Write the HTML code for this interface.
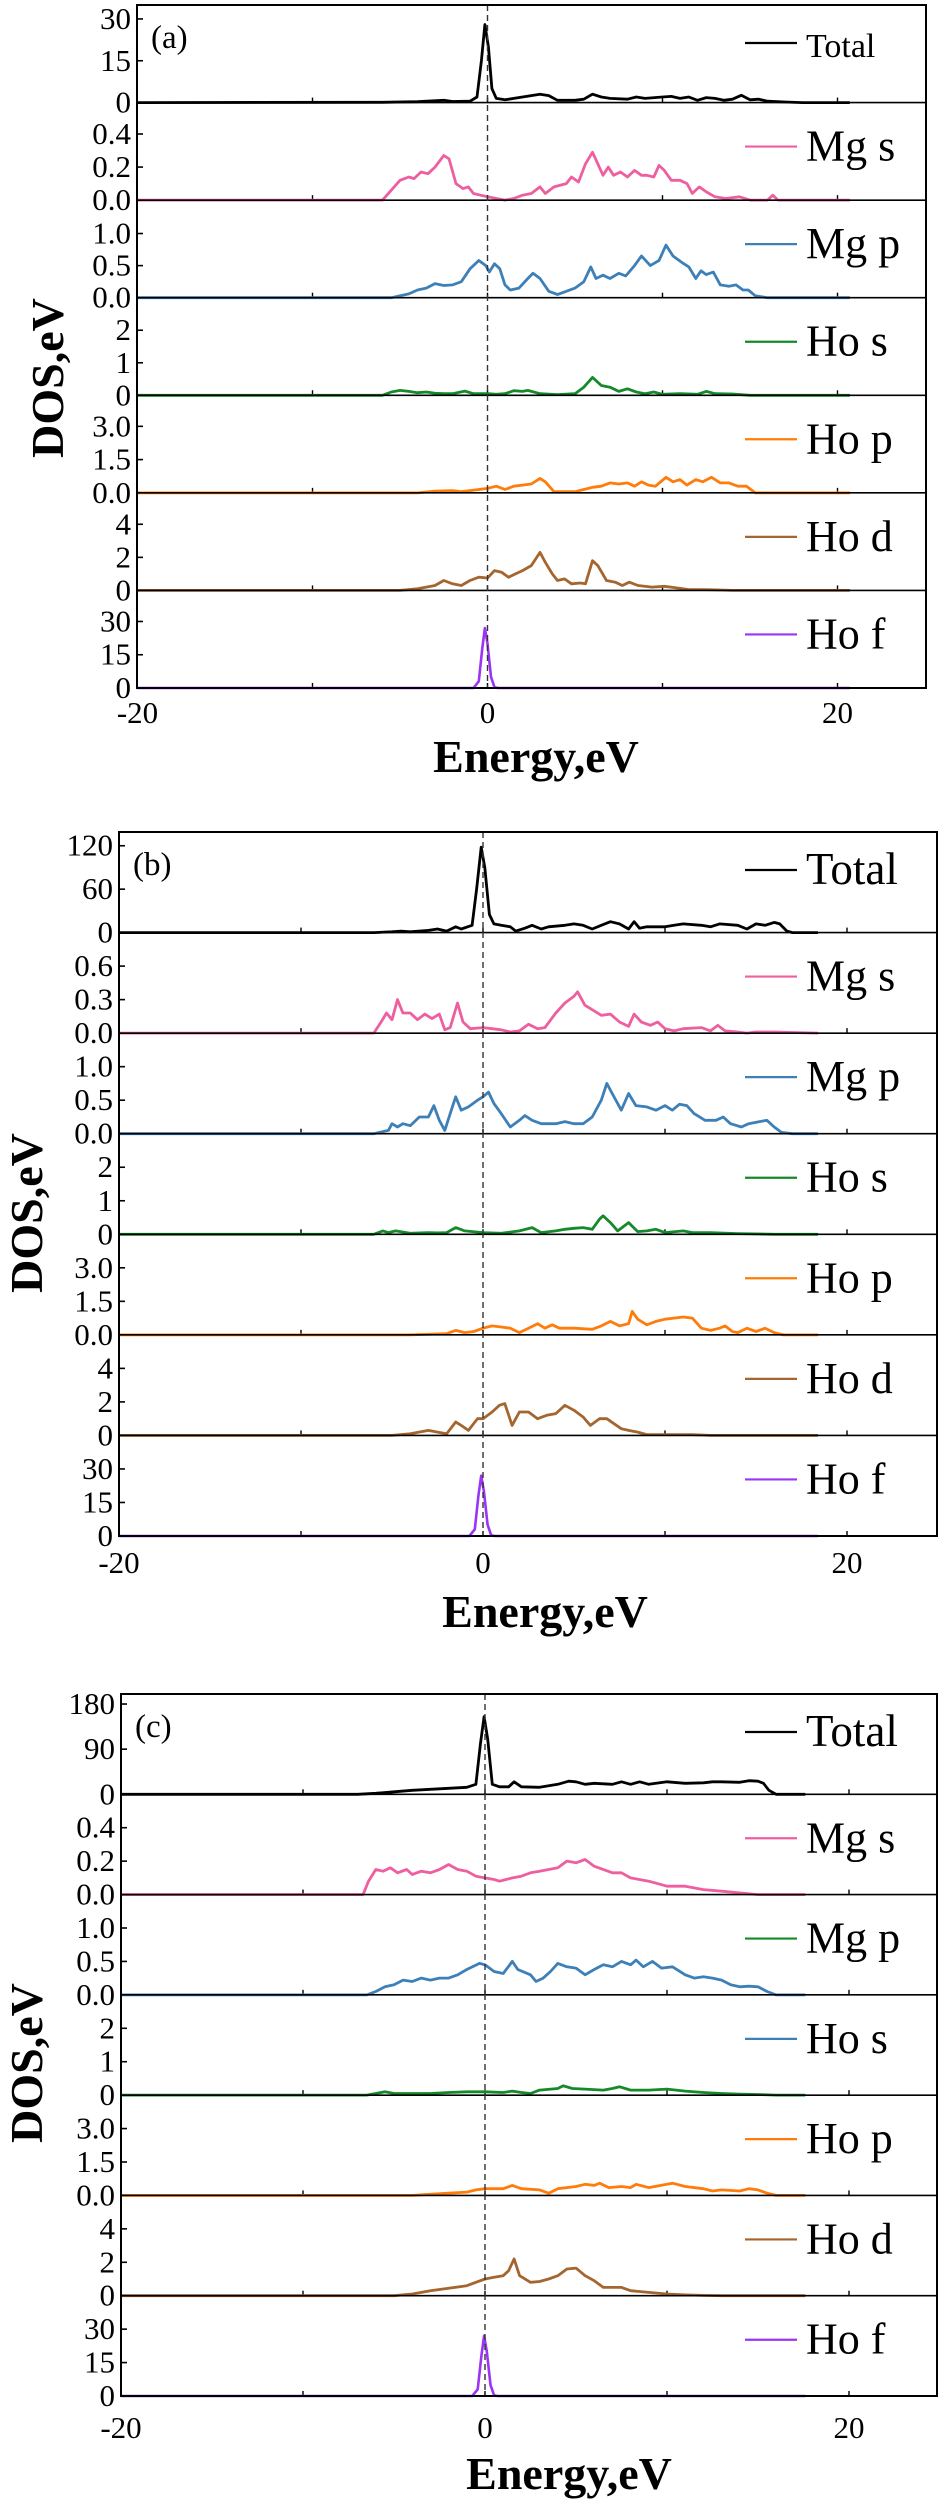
<!DOCTYPE html>
<html><head><meta charset="utf-8">
<style>
html,body{margin:0;padding:0;background:#fff;}
svg{display:block;}
text{font-family:"Liberation Serif",serif;fill:#000;}
</style></head>
<body>
<svg id="fig" width="939" height="2500" viewBox="0 0 939 2500" xmlns="http://www.w3.org/2000/svg"></svg>
<script>
// ---- Data: [energy eV, DOS] pairs ----
const aTotal=[[-20,0],[-6,0.1],[-4,0.3],[-2.5,0.8],[-2,0.4],[-1,0.5],[-0.6,2],[-0.35,15],[-0.15,28],[0.05,20],[0.25,5],[0.5,1.5],[1,1],[2,2],[3,3],[3.5,2.5],[4,0.8],[5,0.8],[5.5,1.2],[6,3],[6.5,2],[7,1.5],[8,1.2],[8.5,2],[9,1.5],[10,2],[10.5,2.2],[11,1.5],[11.5,2],[12,0.8],[12.5,1.8],[13,1.5],[13.5,0.8],[14,1.2],[14.5,2.6],[15,1],[15.5,1.2],[16,0.5],[17,0.2],[18,0],[20.7,0]];
const aMgs=[[-20,0],[-6,0],[-5.5,0.06],[-5,0.12],[-4.5,0.14],[-4.2,0.13],[-3.8,0.17],[-3.4,0.16],[-3,0.2],[-2.5,0.27],[-2.2,0.25],[-1.8,0.1],[-1.4,0.07],[-1.1,0.08],[-0.8,0.04],[-0.4,0.03],[0,0.02],[0.5,0.01],[1,0],[1.5,0.01],[2,0.03],[2.5,0.04],[3,0.08],[3.3,0.04],[3.8,0.08],[4.5,0.1],[4.8,0.14],[5.2,0.11],[5.6,0.22],[6,0.29],[6.3,0.22],[6.6,0.15],[6.9,0.2],[7.2,0.15],[7.6,0.17],[8,0.14],[8.4,0.18],[8.8,0.15],[9.1,0.15],[9.5,0.14],[9.8,0.21],[10.1,0.18],[10.5,0.12],[11,0.12],[11.4,0.1],[11.7,0.04],[12.1,0.08],[12.5,0.05],[13,0.02],[13.6,0.01],[14.4,0.02],[15,0],[16,0],[16.3,0.03],[16.6,0],[20.7,0]];
const aMgp=[[-20,0],[-5.5,0],[-4.5,0.06],[-4,0.12],[-3.5,0.15],[-3,0.22],[-2.5,0.19],[-2,0.2],[-1.5,0.25],[-1,0.45],[-0.5,0.58],[-0.1,0.5],[0.1,0.4],[0.4,0.53],[0.7,0.45],[1,0.2],[1.3,0.12],[1.8,0.15],[2.3,0.3],[2.6,0.38],[3,0.3],[3.5,0.1],[4,0.05],[4.5,0.1],[5,0.15],[5.5,0.25],[5.9,0.48],[6.2,0.3],[6.6,0.35],[7,0.3],[7.5,0.38],[7.9,0.34],[8.4,0.5],[8.8,0.65],[9.3,0.5],[9.8,0.58],[10.2,0.82],[10.6,0.65],[11.1,0.55],[11.5,0.48],[11.9,0.3],[12.2,0.42],[12.5,0.36],[12.9,0.4],[13.3,0.2],[13.8,0.18],[14.2,0.2],[14.6,0.12],[14.9,0.12],[15.3,0.03],[16,0],[20.7,0]];
const aHos=[[-20,0],[-6,0],[-5.5,0.1],[-5,0.15],[-4.5,0.12],[-4,0.08],[-3.5,0.1],[-3,0.06],[-2.5,0.05],[-2,0.05],[-1.3,0.13],[-0.8,0.05],[0,0.05],[0.5,0.03],[1,0.05],[1.5,0.14],[2,0.12],[2.3,0.15],[3,0.05],[4,0.02],[5,0.05],[5.5,0.25],[6,0.55],[6.5,0.3],[7,0.25],[7.5,0.12],[8,0.2],[8.5,0.1],[9,0.05],[9.5,0.1],[10,0.03],[11,0.05],[12,0.03],[12.5,0.12],[13,0.05],[14,0.04],[15,0],[20.7,0]];
const aHop=[[-20,0],[-4,0],[-3,0.08],[-2,0.1],[-1.5,0.05],[-1,0.1],[-0.5,0.15],[0,0.2],[0.5,0.3],[1,0.15],[1.5,0.3],[2,0.35],[2.5,0.4],[3,0.65],[3.3,0.5],[3.8,0.05],[5,0.05],[5.5,0.15],[6,0.25],[6.5,0.3],[7,0.45],[7.5,0.4],[8,0.45],[8.4,0.3],[8.8,0.5],[9.2,0.35],[9.6,0.3],[10.2,0.7],[10.6,0.5],[11,0.6],[11.4,0.35],[11.9,0.6],[12.3,0.5],[12.8,0.7],[13.3,0.45],[13.8,0.45],[14.3,0.3],[14.8,0.3],[15.3,0],[20.7,0]];
const aHod=[[-20,0],[-5,0],[-4,0.1],[-3,0.3],[-2.5,0.6],[-2,0.4],[-1.5,0.3],[-1,0.6],[-0.5,0.8],[0,0.75],[0.4,1.2],[0.8,1.1],[1.2,0.8],[1.6,1.0],[2,1.2],[2.5,1.5],[3,2.3],[3.3,1.7],[3.7,1.0],[4,0.6],[4.4,0.7],[4.8,0.4],[5.3,0.45],[5.6,0.4],[6,1.8],[6.3,1.5],[6.8,0.6],[7.3,0.5],[7.7,0.3],[8.1,0.5],[8.6,0.3],[9.4,0.2],[10.1,0.25],[10.8,0.15],[11.5,0.05],[12.5,0.05],[14,0],[20.7,0]];
const aHof=[[-20,0],[-0.8,0],[-0.5,3],[-0.3,18],[-0.15,27],[0,20],[0.2,5],[0.4,0.3],[0.6,0],[20.7,0]];

const bTotal=[[-20,0],[-6,0],[-5,1],[-4.5,2],[-4,1],[-3,3],[-2.5,5],[-2,2],[-1.5,8],[-1.2,5],[-0.6,10],[-0.35,60],[-0.1,118],[0.1,90],[0.35,25],[0.6,12],[1,10],[1.5,8],[1.8,2],[2.3,6],[2.7,10],[3.2,5],[3.6,8],[4.5,10],[5,12],[5.5,10],[6,5],[6.5,10],[7,15],[7.5,12],[8,5],[8.3,15],[8.6,6],[9,8],[10,8],[10.5,10],[11,12],[12,10],[12.5,8],[13,12],[14,10],[14.5,5],[15,12],[15.5,10],[16,14],[16.3,12],[16.7,2],[17,0],[18.4,0]];
const bMgs=[[-20,0],[-6,0],[-5.6,0.1],[-5.3,0.18],[-5,0.12],[-4.7,0.3],[-4.4,0.18],[-4,0.18],[-3.6,0.12],[-3.2,0.17],[-2.8,0.13],[-2.4,0.17],[-2.1,0.03],[-1.8,0.05],[-1.4,0.27],[-1.1,0.1],[-0.7,0.04],[0,0.05],[0.5,0.04],[1,0.03],[1.5,0.01],[2,0.02],[2.5,0.08],[3,0.04],[3.4,0.05],[4,0.18],[4.5,0.27],[5,0.33],[5.2,0.37],[5.6,0.25],[6.1,0.2],[6.5,0.16],[7,0.17],[7.5,0.1],[8,0.06],[8.3,0.17],[8.7,0.1],[9.2,0.07],[9.6,0.1],[10,0.04],[10.5,0.02],[11,0.04],[12,0.05],[12.5,0.02],[12.9,0.07],[13.3,0.02],[14,0.01],[14.5,0],[15,0.01],[16,0.01],[18.4,0]];
const bMgp=[[-20,0],[-6,0],[-5.2,0.05],[-5,0.15],[-4.7,0.1],[-4.4,0.15],[-4,0.12],[-3.5,0.25],[-3,0.25],[-2.7,0.42],[-2.4,0.2],[-2.1,0.05],[-1.8,0.3],[-1.5,0.55],[-1.2,0.35],[-0.8,0.4],[-0.3,0.5],[0,0.55],[0.3,0.62],[0.6,0.45],[1,0.3],[1.5,0.1],[2,0.2],[2.3,0.27],[2.7,0.2],[3.2,0.15],[4,0.15],[4.5,0.18],[5,0.15],[5.5,0.15],[6,0.25],[6.5,0.5],[6.8,0.75],[7.1,0.6],[7.6,0.35],[8,0.6],[8.4,0.42],[9,0.4],[9.5,0.35],[10,0.42],[10.4,0.35],[10.8,0.44],[11.2,0.42],[11.6,0.3],[12.2,0.2],[12.8,0.2],[13.2,0.25],[13.6,0.15],[14.2,0.1],[14.6,0.15],[15.2,0.18],[15.6,0.2],[16,0.1],[16.4,0.02],[17,0],[18.4,0]];
const bHos=[[-20,0],[-6,0],[-5.5,0.1],[-5.2,0.05],[-4.8,0.1],[-4,0.03],[-3,0.05],[-2.5,0.04],[-2,0.05],[-1.5,0.2],[-1,0.1],[0,0.05],[1,0.03],[2,0.1],[2.7,0.2],[3.2,0.05],[4,0.1],[4.5,0.15],[5,0.18],[5.5,0.2],[6,0.15],[6.4,0.45],[6.6,0.55],[7,0.35],[7.4,0.1],[8,0.35],[8.5,0.08],[9,0.1],[9.5,0.15],[10,0.05],[11,0.1],[11.5,0.05],[12.5,0.05],[14,0.02],[16,0],[18.4,0]];
const bHop=[[-20,0],[-4,0],[-2,0.05],[-1.5,0.2],[-1,0.1],[-0.5,0.15],[0,0.3],[0.5,0.4],[1,0.35],[1.5,0.3],[2,0.1],[2.5,0.3],[3,0.5],[3.4,0.3],[3.8,0.45],[4.2,0.3],[5,0.3],[6,0.25],[6.5,0.4],[7,0.6],[7.5,0.4],[8,0.5],[8.2,1.05],[8.5,0.7],[9,0.45],[9.5,0.6],[10,0.7],[10.5,0.75],[11,0.8],[11.5,0.75],[12,0.3],[12.5,0.2],[13,0.3],[13.3,0.4],[13.7,0.15],[14,0.1],[14.5,0.3],[15,0.15],[15.5,0.3],[16,0.1],[16.5,0],[18.4,0]];
const bHod=[[-20,0],[-5,0],[-4,0.1],[-3,0.3],[-2.5,0.2],[-2,0.1],[-1.5,0.8],[-1.2,0.6],[-0.8,0.3],[-0.3,1.0],[0,1.0],[0.5,1.4],[0.9,1.8],[1.2,1.9],[1.6,0.6],[2,1.4],[2.5,1.4],[3,1.0],[3.5,1.2],[4,1.3],[4.5,1.8],[5,1.5],[5.5,1.1],[5.9,0.6],[6.4,1.0],[6.8,1.0],[7.2,0.7],[7.6,0.4],[8,0.3],[8.5,0.2],[9,0.05],[10,0.05],[11.5,0.05],[12.5,0],[18.4,0]];
const bHof=[[-20,0],[-0.75,0],[-0.45,3],[-0.25,18],[-0.1,27],[0.05,20],[0.25,5],[0.45,0.3],[0.65,0],[18.4,0]];

const cTotal=[[-20,0],[-7,0],[-6,2],[-5,5],[-4,8],[-3,10],[-2,12],[-1,14],[-0.5,20],[-0.25,100],[-0.05,155],[0.15,110],[0.4,20],[0.8,15],[1.3,15],[1.6,25],[2,15],[3,14],[4,20],[4.6,26],[5,25],[5.5,20],[6,22],[7,20],[7.5,25],[8,20],[8.5,25],[9,20],[10,25],[11,22],[12,23],[12.5,25],[13,25],[14,24],[14.5,27],[15,26],[15.3,22],[15.6,8],[16,0],[17.6,0]];
const cMgs=[[-20,0],[-6.7,0],[-6.4,0.08],[-6,0.15],[-5.6,0.14],[-5.2,0.16],[-4.8,0.13],[-4.3,0.15],[-4,0.12],[-3.5,0.14],[-3,0.13],[-2.5,0.15],[-2,0.18],[-1.5,0.15],[-1,0.14],[-0.5,0.11],[0,0.1],[0.5,0.09],[0.8,0.08],[1.5,0.1],[2,0.11],[2.5,0.13],[3,0.14],[3.5,0.15],[4,0.16],[4.5,0.2],[5,0.19],[5.5,0.21],[6,0.17],[7,0.13],[7.5,0.13],[8,0.1],[9,0.08],[10,0.05],[11,0.05],[12,0.03],[13,0.02],[14,0.01],[15,0],[17.6,0]];
const cMgp=[[-20,0],[-6.5,0],[-6,0.05],[-5.5,0.12],[-5,0.15],[-4.5,0.22],[-4,0.2],[-3.5,0.25],[-3,0.22],[-2.5,0.25],[-2,0.25],[-1.5,0.3],[-1,0.38],[-0.3,0.47],[0,0.45],[0.5,0.35],[1,0.32],[1.5,0.5],[1.8,0.38],[2.5,0.3],[2.8,0.2],[3.2,0.25],[3.6,0.35],[4,0.47],[4.5,0.42],[5,0.4],[5.5,0.3],[6,0.38],[6.5,0.45],[7,0.42],[7.5,0.5],[8,0.45],[8.3,0.52],[8.7,0.42],[9.2,0.5],[9.7,0.4],[10.3,0.42],[11,0.3],[11.5,0.25],[12,0.27],[12.5,0.25],[13,0.22],[13.5,0.15],[14,0.12],[14.5,0.13],[15,0.12],[15.5,0.05],[16,0],[17.6,0]];
const cHos=[[-20,0],[-6.5,0],[-6,0.05],[-5.5,0.1],[-5,0.05],[-4,0.05],[-3,0.05],[-2,0.08],[-1,0.1],[0,0.1],[1,0.08],[1.5,0.12],[2,0.08],[2.5,0.05],[3,0.15],[4,0.2],[4.3,0.28],[4.8,0.2],[5.5,0.18],[6.5,0.15],[7,0.2],[7.4,0.25],[8,0.15],[9,0.15],[10,0.18],[11,0.12],[12,0.08],[13,0.05],[14,0.03],[15,0.02],[16,0],[17.6,0]];
const cHop=[[-20,0],[-4,0],[-3,0.05],[-2,0.1],[-1,0.15],[-0.5,0.25],[0,0.3],[1,0.3],[1.5,0.45],[2,0.3],[3,0.25],[3.5,0.1],[4,0.3],[5,0.4],[5.5,0.5],[6,0.45],[6.3,0.55],[6.8,0.35],[7.5,0.4],[8,0.35],[8.3,0.5],[9,0.35],[10,0.5],[10.3,0.55],[11,0.4],[12,0.3],[12.5,0.2],[13,0.25],[14,0.2],[14.5,0.3],[15,0.25],[15.5,0.1],[16,0],[17.6,0]];
const cHod=[[-20,0],[-5,0],[-4,0.1],[-3,0.3],[-2,0.45],[-1,0.6],[-0.5,0.8],[0,1.0],[0.5,1.1],[1,1.2],[1.3,1.5],[1.6,2.2],[1.9,1.2],[2.5,0.8],[3,0.85],[3.5,1.0],[4,1.2],[4.5,1.6],[5,1.65],[5.5,1.2],[6,0.9],[6.5,0.5],[7,0.5],[7.5,0.5],[8,0.3],[9,0.2],[10,0.1],[11,0.05],[12,0.02],[13,0],[17.6,0]];
const cHof=[[-20,0],[-0.7,0],[-0.4,3],[-0.2,18],[-0.05,27],[0.1,20],[0.3,5],[0.5,0.3],[0.7,0],[17.6,0]];

// tick labels per sub-panel
const aTicks=[["0","15","30"],["0.0","0.2","0.4"],["0.0","0.5","1.0"],["0","1","2"],["0.0","1.5","3.0"],["0","2","4"],["0","15","30"]];
const bTicks=[["0","60","120"],["0.0","0.3","0.6"],["0.0","0.5","1.0"],["0","1","2"],["0.0","1.5","3.0"],["0","2","4"],["0","15","30"]];
const cTicks=[["0","90","180"],["0.0","0.2","0.4"],["0.0","0.5","1.0"],["0","1","2"],["0.0","1.5","3.0"],["0","2","4"],["0","15","30"]];
const aYmax=[35,0.59,1.52,3,4.4,5.9,44];
const bYmax=[139,0.9,1.5,3,4.5,6,45];
const cYmax=[200,0.6,1.5,3,4.5,6,45];
const legendNames=["Total","Mg s","Mg p","Ho s","Ho p","Ho d","Ho f"];
const xTickVals=[-20,0,20];
const xMinorVals=[-10,10];

const COL={Total:"#000000",Mgs:"#ee5fa0",Mgp:"#3d80b8",Hos:"#148a2a",Hop:"#ff7c0a",Hod:"#a4652f",Hof:"#9a35f5"};
const seriesCols=[COL.Total,COL.Mgs,COL.Mgp,COL.Hos,COL.Hop,COL.Hod,COL.Hof];
const cLegendCols=[COL.Total,COL.Mgs,COL.Hos,COL.Mgp,COL.Hop,COL.Hod,COL.Hof];

const NS="http://www.w3.org/2000/svg";
const svg=document.getElementById('fig');
function mk(tag,attrs,parent){const e=document.createElementNS(NS,tag);for(const k in attrs)e.setAttribute(k,attrs[k]);(parent||svg).appendChild(e);return e;}

const panels=[
 {id:"a",label:"(a)",left:137,right:926,top:5,bottom:688,x0:487.5,ppe:17.5,data:[aTotal,aMgs,aMgp,aHos,aHop,aHod,aHof],ticks:aTicks,ymax:aYmax,legCols:seriesCols,dosX:47,dosY:378,enY:757,enX:536,tlY:712,totalSize:34},
 {id:"b",label:"(b)",left:119,right:937,top:832,bottom:1536,x0:483,ppe:18.2,data:[bTotal,bMgs,bMgp,bHos,bHop,bHod,bHof],ticks:bTicks,ymax:bYmax,legCols:seriesCols,dosX:26,dosY:1213,enY:1612,enX:545,tlY:1562,totalSize:45},
 {id:"c",label:"(c)",left:121,right:937,top:1694,bottom:2396,x0:485,ppe:18.2,data:[cTotal,cMgs,cMgp,cHos,cHop,cHod,cHof],ticks:cTicks,ymax:cYmax,legCols:cLegendCols,dosX:26,dosY:2063,enY:2474,enX:569,tlY:2427,totalSize:45}
];

panels.forEach(p=>{
  const g=mk('g',{});
  
  
  const xs=e=>p.x0+e*p.ppe;
  const sh=(p.bottom-p.top)/7;
  for(let i=0;i<7;i++){
    const st=p.top+i*sh, sb=st+sh;
    const ys=v=>sb-v/p.ymax[i]*sh;
    const sg=mk('g',{},g);
    
    
    p.ticks[i].forEach((t,k)=>{
      const v=parseFloat(t);const y=ys(v);
      if(k>0){const tk=mk('line',{x1:p.left,x2:p.left+6,y1:y,y2:y,stroke:'#000','stroke-width':1.6},sg);
        }
      const tx=mk('text',{x:p.left-6,y:y+10,'text-anchor':'end','font-size':31},sg);
      
      tx.textContent=t;
    });
    xTickVals.concat(xMinorVals).forEach(e=>{
      const x=xs(e);if(x<=p.left+1)return;
      const tk=mk('line',{x1:x,x2:x,y1:sb,y2:sb-5,stroke:'#000','stroke-width':1.4},sg);
      
    });
    const pts=p.data[i].map(d=>xs(d[0]).toFixed(1)+','+ys(d[1]).toFixed(1)).join(' ');
    const pl=mk('polyline',{points:pts,fill:'none',stroke:seriesCols[i],'stroke-width':i==6?2.6:2.8,'stroke-linejoin':'round'},sg);
    
    
    if(i<6){const sl=mk('line',{x1:p.left,x2:p.right,y1:sb,y2:sb,stroke:'#000','stroke-width':1.6},sg);
      }
    const ly=st+(i==0?38:44);
    const lg=mk('g',{},sg);
    
    
    mk('line',{x1:745,x2:797,y1:ly,y2:ly,stroke:p.legCols[i],'stroke-width':2.2},lg);
    const lt=mk('text',{x:806,y:ly+14,'font-size':i==0?p.totalSize:44},lg);
    lt.textContent=legendNames[i];
  }
  const dz=mk('line',{x1:p.x0,x2:p.x0,y1:p.top,y2:p.bottom,stroke:'#333','stroke-width':1.4,'stroke-dasharray':'6,4'},g);
  
  const fr=mk('rect',{x:p.left,y:p.top,width:p.right-p.left,height:p.bottom-p.top,fill:'none',stroke:'#000','stroke-width':2},g);
  
  xTickVals.forEach(e=>{
    const t=mk('text',{x:xs(e),y:p.tlY+11,'text-anchor':'middle','font-size':31},g);
    
    t.textContent=String(e);
  });
  const pl=mk('text',{x:p.left+14,y:p.top+43,'font-size':33},g);
  
  pl.textContent=p.label;
  const xt=mk('text',{x:p.enX,y:p.enY+15,'text-anchor':'middle','font-size':46,'font-weight':'bold'},g);
  
  xt.textContent='Energy,eV';
  const yt=mk('text',{x:0,y:0,'text-anchor':'middle','font-size':46,'font-weight':'bold',transform:'translate('+(p.dosX+16)+','+p.dosY+') rotate(-90)'},g);
  
  yt.textContent='DOS,eV';
});
</script>
</body></html>
